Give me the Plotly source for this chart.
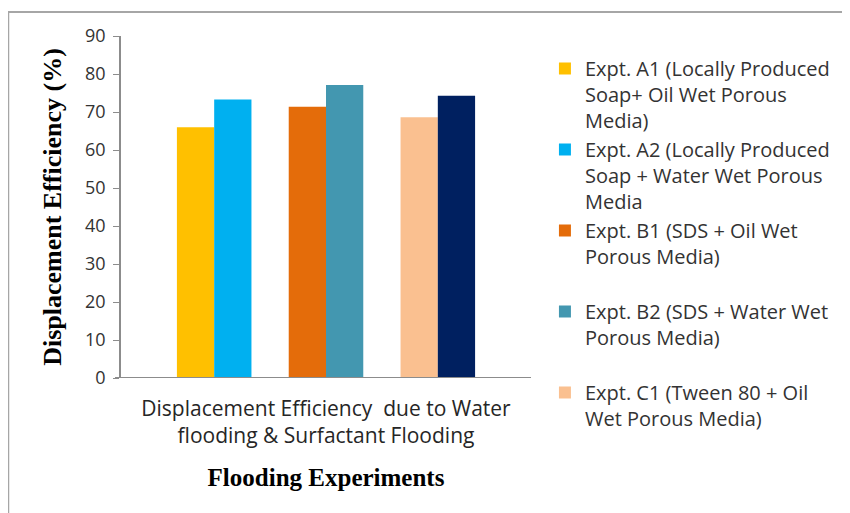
import plotly.graph_objects as go

# ---- data ----
series_names = [
    "Expt. A1 (Locally Produced<br>Soap+ Oil Wet Porous<br>Media)",
    "Expt. A2 (Locally Produced<br>Soap + Water Wet Porous<br>Media",
    "Expt. B1 (SDS + Oil Wet<br>Porous Media)<br> ",
    "Expt. B2 (SDS + Water Wet<br>Porous Media)<br> ",
    "Expt. C1 (Tween 80 + Oil<br>Wet Porous Media)",
    "Expt. C2 (Tween 80 + Water<br>Wet Porous Media)",
]
values = [66.0, 73.3, 71.4, 77.1, 68.6, 74.3]
colors = ["#FFC000", "#00B0F0", "#E46C0A", "#4397B0", "#FAC090", "#002060"]
show_in_legend = [True, True, True, True, True, False]
category_label = "Displacement Efficiency  due to Water<br>flooding & Surfactant Flooding"
y_ticks = [0, 10, 20, 30, 40, 50, 60, 70, 80, 90]

fig = go.Figure()
for i, (name, v, c, sl) in enumerate(zip(series_names, values, colors, show_in_legend)):
    group, member = divmod(i, 2)
    xpos = 2 + 3 * group + member
    fig.add_trace(go.Bar(
        x=[xpos], y=[v], name=name, marker_color=c,
        marker_line_width=0, width=1.0, showlegend=sl,
        legendgroup="g%d" % i,
    ))

fig.update_layout(
    width=850, height=513,
    margin=dict(l=113, r=327, t=28, b=143, autoexpand=False),
    paper_bgcolor="white", plot_bgcolor="white",
    barmode="overlay",
    font=dict(family="Open Sans", size=18, color="#333333"),
    legend=dict(
        x=1.034, y=0.962, xanchor="left", yanchor="top",
        font=dict(family="Open Sans", size=20, color="#333333"),
        valign="top", tracegroupgap=0, itemwidth=30,
        maxheight=480,
    ),
    xaxis=dict(
        range=[0, 11], showgrid=False, zeroline=False,
        tickvals=[5.5], ticktext=[category_label], ticks="",
        tickfont=dict(family="Open Sans", size=21, color="#262626"),
        ticklabelstandoff=16,
        showline=False,
        title=dict(text="<b>Flooding Experiments</b>",
                   font=dict(family="Liberation Serif", size=25, color="black"),
                   standoff=20),
    ),
    yaxis=dict(
        range=[0, 90], tickvals=y_ticks, showgrid=False, zeroline=False,
        showline=True, linecolor="#8C8C8C", linewidth=1.5,
        ticks="outside", ticklen=6, tickcolor="#8C8C8C",
        ticklabelstandoff=4,
        title=dict(text="<b>Displacement Efficiency (%)</b>",
                   font=dict(family="Liberation Serif", size=26, color="black"),
                   standoff=16),
    ),
)

# x axis baseline extending slightly left of the y axis
fig.add_shape(type="line", xref="paper", yref="y", x0=-0.0146, x1=1.0, y0=0, y1=0,
              line=dict(color="#8C8C8C", width=2))
# outer chart border (top and left visible)
fig.add_shape(type="rect", xref="paper", yref="paper",
              x0=-0.275, x1=1.9, y0=-0.6, y1=1.07,
              line=dict(color="#A6A6A6", width=2), layer="below")

fig.write_html("out.html")
